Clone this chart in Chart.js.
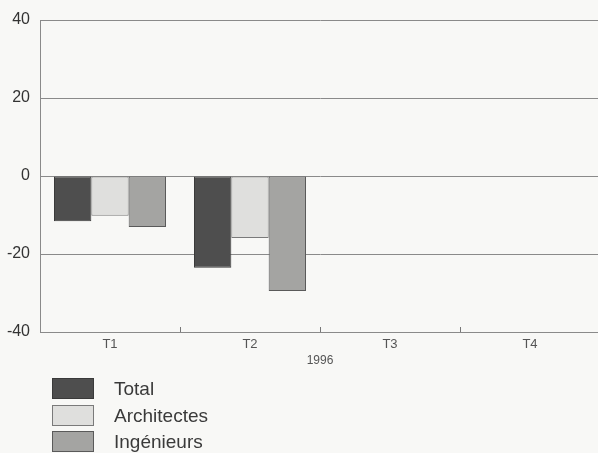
<!DOCTYPE html>
<html>
<head>
<meta charset="utf-8">
<script src="https://cdn.jsdelivr.net/npm/chart.js@4"></script>
<style>
  html, body { margin:0; padding:0; background:#f8f8f6; width:598px; height:453px; overflow:hidden; }
  #wrap { position:relative; width:598px; height:453px; }
  #graphique { position:absolute; left:0; top:0; }
  .leg { position:absolute; left:52px; width:40px; height:19px; border:1px solid #777; }
  .legTxt { position:absolute; left:114px; font:19px "Liberation Sans", Arial, sans-serif; color:#3a3a3a; line-height:21px; }
</style>
</head>
<body>
<div id="wrap">
  <canvas id="graphique" width="600" height="380"></canvas>
  <div id="legende"></div>
</div>
<script>
// données
const trimestres = ['T1', 'T2', 'T3', 'T4'];
const total = [-11.6, -23.5, null, null];
const architectes = [-10.2, -15.9, null, null];
const ingenieurs = [-13.1, -29.5, null, null];
const graduations = [40, 20, 0, -20, -40];
const annee = '1996';

const series = [
    { label: 'Total', data: total, fond: '#4e4e4e', bord: '#3a3a3a' },
    { label: 'Architectes', data: architectes, fond: '#dfdfdd', bord: '#7a7a7a' },
    { label: 'Ingénieurs', data: ingenieurs, fond: '#a4a4a2', bord: '#5a5a5a' }
];

const ctx = document.getElementById('graphique').getContext('2d');
const graphique = new Chart(ctx, {
    type: 'bar',
    data: {
        labels: trimestres,
        datasets: series.map(s => ({
            label: s.label,
            data: s.data,
            backgroundColor: s.fond,
            borderColor: s.bord,
            borderWidth: 1,
            borderSkipped: false,
            categoryPercentage: 0.8,
            barPercentage: 1.0
        }))
    },
    options: {
        responsive: false,
        animation: false,
        devicePixelRatio: 1,
        layout: { padding: { top: 20, left: 0, right: 0, bottom: 8 } },
        plugins: {
            legend: { display: false },
            tooltip: { enabled: false }
        },
        scales: {
            x: {
                grid: { display: true, drawOnChartArea: false, drawTicks: true, tickLength: -5, color: '#777', offset: true },
                border: { display: true, color: '#8a8a8a' },
                ticks: { color: '#555', padding: 10, font: { family: 'Liberation Sans', size: 13 } },
                title: { display: true, text: annee, color: '#555', padding: { top: 0, bottom: 4 }, font: { family: 'Liberation Sans', size: 12 } },
                afterFit: s => { s.height = 40; }
            },
            y: {
                min: Math.min(...graduations),
                max: Math.max(...graduations),
                afterBuildTicks: s => { s.ticks = graduations.map(v => ({ value: v })); },
                grid: { color: '#8a8a8a', lineWidth: 1, drawTicks: false },
                border: { display: true, color: '#8a8a8a' },
                ticks: { color: '#333', padding: 10, font: { family: 'Liberation Sans', size: 16 } },
                afterFit: s => { s.width = 40; }
            }
        }
    }
});

// légende verticale en bas à gauche
const legende = document.getElementById('legende');
const hauts = [378, 405, 431];
series.forEach((s, i) => {
    legende.innerHTML += `<div class="leg" style="top:${hauts[i]}px;background:${s.fond};border-color:${s.bord}"></div>
        <div class="legTxt" style="top:${hauts[i]}px">${s.label}</div>`;
});
</script>
</body>
</html>
